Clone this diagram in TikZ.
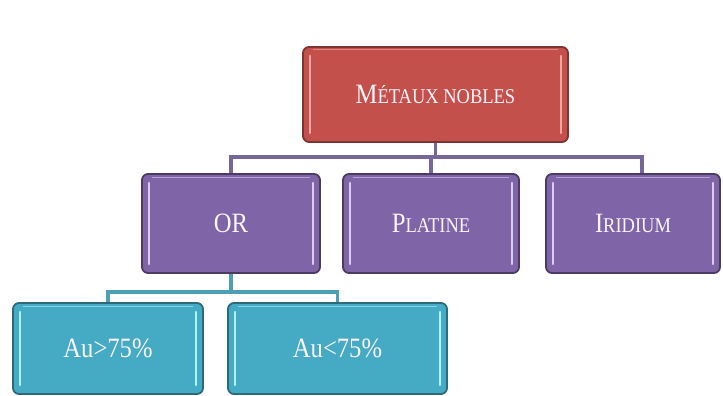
\documentclass[tikz,border=0pt]{standalone}
\usepackage{fontspec}
\setmainfont{Liberation Serif}
\usetikzlibrary{calc}
\definecolor{redfill}{HTML}{C4504B}
\definecolor{redline}{HTML}{7E3432}
\definecolor{redhi}{HTML}{F2A8A2}
\definecolor{purfill}{HTML}{8064A8}
\definecolor{purline}{HTML}{4C3C63}
\definecolor{purhi}{HTML}{DCCCF4}
\definecolor{tealfill}{HTML}{45AAC4}
\definecolor{tealline}{HTML}{2C6A7C}
\definecolor{tealhi}{HTML}{B0F2FF}
\definecolor{conpur}{HTML}{76669A}
\definecolor{conteal}{HTML}{4E9FB4}
\definecolor{txt}{HTML}{FBF4FA}
\newcommand{\condtxt}[1]{\scalebox{0.88}[1]{#1}}
\newcommand{\smc}[1]{{\fontsize{21}{21}\selectfont #1}}
\tikzset{
  boxbase/.style={rounded corners=6pt, line width=1.8pt, text=txt,
    font=\fontsize{28}{28}\selectfont, inner sep=0pt},
  hilite/.style={path picture={
    \draw[#1, line width=2.4pt, line cap=round]
      ([xshift=7pt,yshift=9pt]path picture bounding box.south west) --
      ([xshift=7pt,yshift=-9pt]path picture bounding box.north west);
    \draw[#1, line width=2.4pt, line cap=round]
      ([xshift=-7pt,yshift=9pt]path picture bounding box.south east) --
      ([xshift=-7pt,yshift=-9pt]path picture bounding box.north east);
    \draw[#1, line width=1pt, opacity=0.6]
      ([xshift=10pt,yshift=-3pt]path picture bounding box.north west) --
      ([xshift=-10pt,yshift=-3pt]path picture bounding box.north east);
  }},
  redbox/.style={boxbase, fill=redfill, draw=redline, hilite=redhi},
  purbox/.style={boxbase, fill=purfill, draw=purline, hilite=purhi},
  tealbox/.style={boxbase, fill=tealfill, draw=tealline, hilite=tealhi},
  conA/.style={draw=conpur, line width=3.5pt},
  conB/.style={draw=conteal, line width=3.5pt},
}
\begin{document}
\begin{tikzpicture}[x=1pt, y=-1pt]
\useasboundingbox (0,0) rectangle (723,396);
\fill[white] (0,0) rectangle (723,396);

\coordinate (busA) at (0,157);
\coordinate (busB) at (0,292);

\node[redbox, minimum width=265pt, minimum height=95pt] (top) at (435.5,94.5) {\condtxt{M\smc{ÉTAUX NOBLES}}};
\node[purbox, minimum width=178pt, minimum height=99pt] (or) at (231,223.5) {\condtxt{OR}};
\node[purbox, minimum width=176pt, minimum height=99pt] (pt) at (431,223.5) {\condtxt{P\smc{LATINE}}};
\node[purbox, minimum width=174pt, minimum height=99pt] (ir) at (633,223.5) {\condtxt{I\smc{RIDIUM}}};
\node[tealbox, minimum width=190pt, minimum height=91pt] (a1) at (108,348.5) {\condtxt{Au>75\%}};
\node[tealbox, minimum width=219pt, minimum height=91pt] (a2) at (337.5,348.5) {\condtxt{Au<75\%}};

\draw[conA] (top.south) -- (top.south |- busA) -| (or.north);
\draw[conA] (top.south |- busA) -| (pt.north);
\draw[conA] (top.south |- busA) -| ([xshift=9pt]ir.north);
\draw[conB] (or.south) -- (or.south |- busB) -| (a1.north);
\draw[conB] (or.south |- busB) -| (a2.north);
\end{tikzpicture}
\end{document}
